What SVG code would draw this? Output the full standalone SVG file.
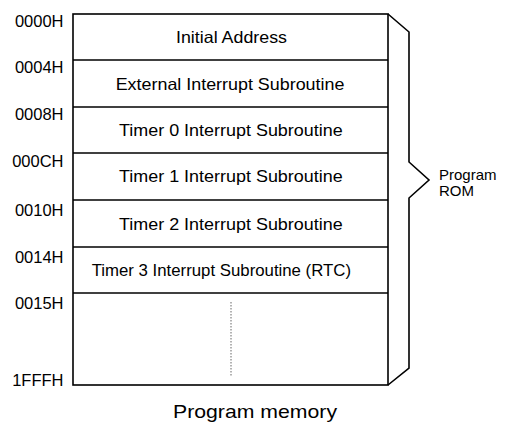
<svg xmlns="http://www.w3.org/2000/svg" width="508" height="422" viewBox="0 0 508 422">
<style>
.t{font-family:"Liberation Sans",Arial,sans-serif;fill:#000}
.addr{font-size:16.5px;text-anchor:end}
.row{font-size:16.5px}
.ln{stroke:#000;stroke-width:1.6;fill:none}
</style>
<rect width="508" height="422" fill="#fff"/>
<g id="memory-box">
<rect class="ln" x="73" y="14" width="315" height="371"/>
</g>
<g id="connectors">
<line class="ln" x1="73" y1="60" x2="388" y2="60"/>
<line class="ln" x1="73" y1="107" x2="388" y2="107"/>
<line class="ln" x1="73" y1="153" x2="388" y2="153"/>
<line class="ln" x1="73" y1="200" x2="388" y2="200"/>
<line class="ln" x1="73" y1="247" x2="388" y2="247"/>
<line class="ln" x1="73" y1="293" x2="388" y2="293"/>
<line x1="231" y1="302" x2="231" y2="377" stroke="#666" stroke-width="1" stroke-dasharray="1.5,1.5"/>
<polyline class="ln" stroke-width="1.3" stroke-linejoin="miter" points="388,14 409,32 409,162 429,180 409,198 409,368 388,385"/>
</g>
<g id="addresses" class="t addr">
<text x="63.5" y="26.5">0000H</text>
<text x="63.5" y="73.3">0004H</text>
<text x="63.5" y="120">0008H</text>
<text x="63.5" y="167">000CH</text>
<text x="63.5" y="215.5">0010H</text>
<text x="63.5" y="262.5">0014H</text>
<text x="63.5" y="309">0015H</text>
<text x="63.5" y="385.5">1FFFH</text>
</g>
<g id="row-initial"><text class="t row" x="176" y="43" textLength="111" lengthAdjust="spacingAndGlyphs">Initial Address</text></g>
<g id="row-external"><text class="t row" x="115.7" y="90" textLength="228.7" lengthAdjust="spacingAndGlyphs">External Interrupt Subroutine</text></g>
<g id="row-timer0"><text class="t row" x="119" y="136.3" textLength="223.7" lengthAdjust="spacingAndGlyphs">Timer 0 Interrupt Subroutine</text></g>
<g id="row-timer1"><text class="t row" x="119" y="182.3" textLength="223.7" lengthAdjust="spacingAndGlyphs">Timer 1 Interrupt Subroutine</text></g>
<g id="row-timer2"><text class="t row" x="119" y="229.5" textLength="223.7" lengthAdjust="spacingAndGlyphs">Timer 2 Interrupt Subroutine</text></g>
<g id="row-timer3"><text class="t row" x="91.7" y="276.3" textLength="259.3" lengthAdjust="spacingAndGlyphs">Timer 3 Interrupt Subroutine (RTC)</text></g>
<g id="program-rom" class="t" font-size="15px">
<text x="439" y="180">Program</text>
<text x="439" y="196">ROM</text>
</g>
<g id="caption"><text class="t" font-size="19px" x="173" y="417.5" textLength="164" lengthAdjust="spacingAndGlyphs">Program memory</text></g>
</svg>
